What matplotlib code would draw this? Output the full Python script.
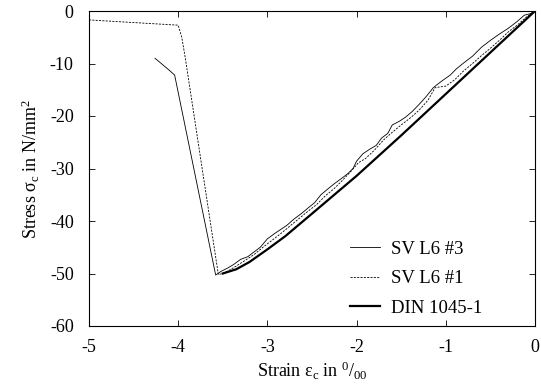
import numpy as np
import matplotlib
matplotlib.use('Agg')
import matplotlib.pyplot as plt

# Schriften wie im Original (Times-aehnlich)
plt.rcParams['font.family'] = ['Liberation Serif', 'DejaVu Serif']
plt.rcParams['mathtext.fontset'] = 'custom'
plt.rcParams['mathtext.rm'] = 'Liberation Serif'
plt.rcParams['mathtext.it'] = 'Liberation Serif:italic'
plt.rcParams['axes.unicode_minus'] = False

# SV L6 #3 (duenn, durchgezogen)
x_sv3 = [-4.26, -4.19, -4.12, -4.04, -3.58, -3.52, -3.45, -3.38, -3.30, -3.22, -3.15,
         -3.08, -3.00, -2.92, -2.85, -2.78, -2.70, -2.62, -2.55, -2.47, -2.40, -2.33,
         -2.25, -2.17, -2.10, -2.04, -2.00, -1.93, -1.85, -1.78, -1.72, -1.65, -1.60,
         -1.52, -1.45, -1.38, -1.30, -1.22, -1.14, -1.05, -0.95, -0.88, -0.80, -0.70,
         -0.60, -0.50, -0.40, -0.30, -0.20, -0.12, -0.05, 0.0]
y_sv3 = [-9.0, -10.0, -11.0, -12.2, -50.3, -49.6, -49.0, -48.3, -47.3, -46.8, -45.9,
         -45.0, -43.4, -42.4, -41.6, -40.8, -39.6, -38.6, -37.6, -36.5, -35.0, -34.0,
         -32.9, -31.9, -31.0, -30.0, -28.6, -27.2, -26.3, -25.6, -24.2, -23.3, -21.7,
         -21.0, -20.2, -19.2, -17.8, -16.3, -14.6, -13.4, -12.2, -11.0, -9.9, -8.6,
         -6.9, -5.6, -4.4, -3.3, -2.0, -0.8, -0.5, 0.0]

# SV L6 #1 (duenn, gestrichelt)
x_sv1 = [-5.0, -4.5, -4.0, -3.96, -3.92, -3.55, -3.50, -3.42, -3.35, -3.25, -3.15,
         -3.05, -2.95, -2.85, -2.75, -2.65, -2.55, -2.45, -2.35, -2.25, -2.15, -2.05,
         -1.98, -1.90, -1.80, -1.70, -1.60, -1.50, -1.40, -1.30, -1.20, -1.12, -1.00,
         -0.90, -0.80, -0.70, -0.60, -0.50, -0.40, -0.30, -0.20, -0.10, 0.0]
y_sv1 = [-1.7, -2.2, -2.7, -5.0, -9.0, -50.2, -50.0, -49.3, -48.6, -47.5, -46.4,
         -45.0, -43.7, -42.4, -41.0, -39.6, -38.2, -36.9, -35.2, -33.8, -32.1, -30.3,
         -28.9, -28.1, -26.5, -24.6, -23.1, -21.7, -20.4, -18.9, -17.0, -14.6, -14.3,
         -13.1, -11.4, -10.0, -8.5, -7.1, -5.6, -4.0, -2.7, -1.2, 0.0]

# DIN 1045-1 (dick)
x_din = [0.0, -0.5, -1.0, -1.5, -2.0, -2.5, -2.8, -3.0, -3.2, -3.35, -3.5]
y_din = [0.0, -7.9, -15.8, -23.7, -31.4, -38.6, -42.9, -45.4, -47.8, -49.2, -50.0]

fig = plt.figure(figsize=(5.41, 3.87), dpi=100)
ax = fig.add_axes([89/541, 61/387, 446/541, 315/387])

ax.plot(x_sv3, y_sv3, color='black', lw=0.6, label='SV L6 #3')
ax.plot(x_sv1, y_sv1, color='black', lw=0.6, ls=(0, (2.5, 1.5)), label='SV L6 #1')
ax.plot(x_din, y_din, color='black', lw=1.6, label='DIN 1045-1')

ax.set_xlim(-5, 0)
ax.set_ylim(-60, 0)
ax.set_xticks(np.arange(-5, 1, 1))
ax.set_yticks(np.arange(-60, 1, 10))
ax.tick_params(direction='in', top=True, right=True, length=4, width=0.6,
               labelsize=13)
ax.tick_params(axis='x', pad=9.5)
ax.tick_params(axis='y', pad=11)
for s in ax.spines.values():
    s.set_linewidth(0.8)

ax.set_xlabel(r'Strain ε$_\mathrm{c}$ in $^\mathrm{0}/_\mathrm{00}$', fontsize=13, labelpad=3)
ax.set_ylabel(r'Stress σ$_\mathrm{c}$ in N/mm$^\mathrm{2}$', fontsize=13, labelpad=6)

ax.legend(loc='lower left', bbox_to_anchor=(0.585, 0.03), frameon=False,
          fontsize=13.5, handlelength=1.6, handletextpad=0.6, borderpad=0,
          borderaxespad=0, labelspacing=0.65)

fig.savefig('out.png', dpi=100)
